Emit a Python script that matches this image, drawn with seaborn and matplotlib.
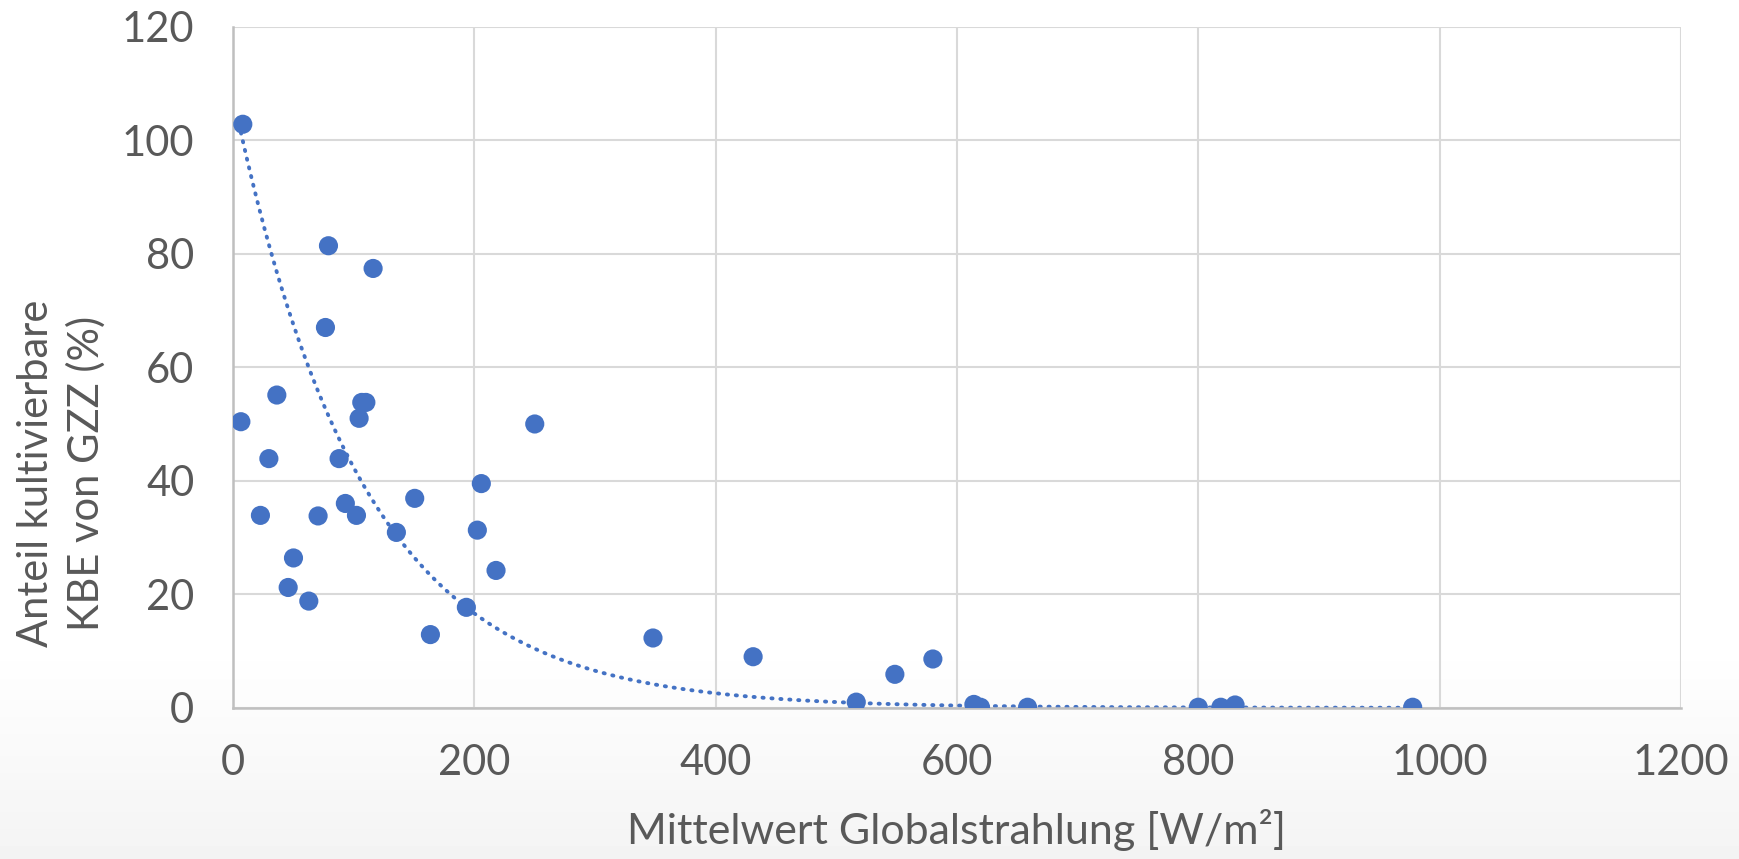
import numpy as np
import pandas as pd
import matplotlib
matplotlib.use("Agg")
import matplotlib.pyplot as plt
import seaborn as sns

# ---- data ----
globalstrahlung = [8, 6.4, 36.2, 29.6, 22.6, 50, 45.6, 62.7, 79, 76.5, 116, 70.4,
                   87.8, 93, 102.2, 104.4, 106.6, 110, 135.3, 150.5, 163.5, 193.3,
                   202.4, 205.7, 217.9, 250, 348, 431, 516.5, 548.5, 580, 614,
                   619.5, 658.5, 800, 818.7, 830.5, 977.7]
anteil_kbe = [102.8, 50.4, 55.1, 43.9, 33.9, 26.4, 21.2, 18.8, 81.4, 67.0, 77.4, 33.8,
              43.9, 36.0, 33.9, 51.0, 53.8, 53.8, 30.9, 36.9, 12.9, 17.7,
              31.3, 39.5, 24.2, 50.0, 12.3, 9.0, 1.0, 5.9, 8.6, 0.6,
              0.1, 0.1, 0.1, 0.1, 0.5, 0.1]
# exponential trend line y = a * exp(b x)
trend_a = 107.6
trend_b = -0.00934

x_ticks = [0, 200, 400, 600, 800, 1000, 1200]
y_ticks = [0, 20, 40, 60, 80, 100, 120]
x_label = "Mittelwert Globalstrahlung [W/m²]"
y_label = "Anteil kultivierbare\nKBE von GZZ (%)"

df = pd.DataFrame({"x": globalstrahlung, "y": anteil_kbe})
xt = np.linspace(min(globalstrahlung), max(globalstrahlung), 400)
trend = pd.DataFrame({"x": xt, "y": trend_a * np.exp(trend_b * xt)})

sns.set_theme(style="white")
plt.rcParams["font.family"] = ["Lato", "DejaVu Sans"]

blue = "#4472C4"
fig = plt.figure(figsize=(17.4, 8.59), dpi=100)

# subtle background gradient at bottom
bg = fig.add_axes([0, 0, 1, 1], zorder=-10)
grad = np.ones((200, 1))
yy = np.linspace(0, 1, 200)
grad[:, 0] = np.where(yy < 0.25, 0.955 + 0.045 * (yy / 0.25), 1.0)
bg.imshow(grad, aspect="auto", cmap="gray", vmin=0, vmax=1, origin="lower",
          extent=[0, 1, 0, 1])
bg.axis("off")

ax = fig.add_axes([0.134, 0.176, 0.832, 0.793])
ax.set_facecolor("none")

sns.lineplot(data=trend, x="x", y="y", ax=ax, color=blue, linewidth=2.8,
             linestyle=(0, (0.3, 2.0)), dash_capstyle="round", zorder=2)
sns.scatterplot(data=df, x="x", y="y", ax=ax, color=blue, s=190,
                edgecolor="none", zorder=3)

ax.set_xlim(0, 1200)
ax.set_ylim(0, 120)
ax.set_xticks(x_ticks)
ax.set_yticks(y_ticks)
ax.grid(True, color="#D9D9D9", linewidth=1.5, zorder=0)
ax.set_axisbelow(True)
for s in ["top", "right"]:
    ax.spines[s].set_visible(False)
for s in ["left", "bottom"]:
    ax.spines[s].set_color("#BFBFBF")
    ax.spines[s].set_linewidth(1.8)
ax.tick_params(axis="both", length=0, labelsize=30, colors="#595959")
ax.tick_params(axis="x", pad=26)
ax.tick_params(axis="y", pad=28)
ax.set_xlabel(x_label, fontsize=31, color="#595959")
ax.xaxis.set_label_coords(0.5, -0.148)
ax.set_ylabel(y_label, fontsize=30, color="#595959", linespacing=1.35)
ax.yaxis.set_label_coords(-0.088, 0.344)

fig.savefig("out.png", dpi=100)
